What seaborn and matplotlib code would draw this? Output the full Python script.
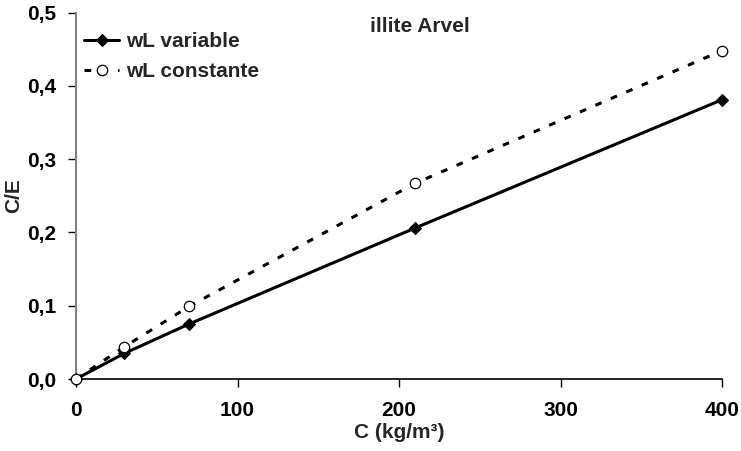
import matplotlib
matplotlib.use("Agg")
import matplotlib.pyplot as plt
import seaborn as sns
import pandas as pd

C = [0, 30, 70, 210, 400]
ce_variable = [0.0, 0.035, 0.075, 0.206, 0.381]
ce_constante = [0.0, 0.044, 0.099, 0.267, 0.448]
xticks = [0, 100, 200, 300, 400]
yticks = [0.0, 0.1, 0.2, 0.3, 0.4, 0.5]
ytick_labels = ["0,0", "0,1", "0,2", "0,3", "0,4", "0,5"]

sns.set_style("ticks")
plt.rcParams['font.family'] = ['Liberation Sans', 'DejaVu Sans']
plt.rcParams['font.weight'] = 'bold'

FS = 15
fig = plt.figure(figsize=(7.41, 4.51), dpi=100)
ax = fig.add_axes([76/741, 1-379/451, (722-76)/741, (379-12.5)/451])

df_v = pd.DataFrame({"C": C, "CE": ce_variable})
df_c = pd.DataFrame({"C": C, "CE": ce_constante})

sns.lineplot(data=df_v, x="C", y="CE", ax=ax, color="black", lw=2.2,
             marker="D", markersize=6, markeredgecolor="black",
             markerfacecolor="black", label="wL variable", clip_on=False, zorder=3)
sns.lineplot(data=df_c, x="C", y="CE", ax=ax, color="black", lw=2.2,
             linestyle=(0, (2.2, 3.3)), marker="o", markersize=7.5,
             markeredgecolor="black", markerfacecolor="white",
             markeredgewidth=0.9, label="wL constante", clip_on=False, zorder=3)

ax.set_xlim(0, 400)
ax.set_ylim(0, 0.5)
ax.set_xticks(xticks)
ax.set_yticks(yticks)
ax.set_yticklabels(ytick_labels)
ax.tick_params(axis='both', labelsize=FS, length=6, width=1, direction='out',
               colors='black', pad=8)
ax.tick_params(axis='x', pad=10)
for lab in ax.get_xticklabels() + ax.get_yticklabels():
    lab.set_fontweight('bold')

ax.spines['right'].set_visible(False)
ax.spines['top'].set_visible(False)
ax.spines['left'].set_color('#808080')
ax.spines['left'].set_linewidth(1.5)
ax.spines['bottom'].set_color('black')
ax.spines['bottom'].set_linewidth(1.2)

ax.set_xlabel("C (kg/m³)", fontsize=FS, fontweight='bold', labelpad=2)
ax.set_ylabel("C/E", fontsize=FS, fontweight='bold', labelpad=3)

ax.text(0.5325, 0.962, "illite Arvel", transform=ax.transAxes, ha='center', va='center',
        fontsize=FS, fontweight='bold')

leg = ax.legend(loc='upper left', bbox_to_anchor=(0.0124, 0.947), frameon=False,
                fontsize=FS, handlelength=1.68, handletextpad=0.34,
                labelspacing=0.55, borderaxespad=0.0, borderpad=0.0)
for t in leg.get_texts():
    t.set_fontweight('bold')

fig.savefig("out.png", dpi=100)
